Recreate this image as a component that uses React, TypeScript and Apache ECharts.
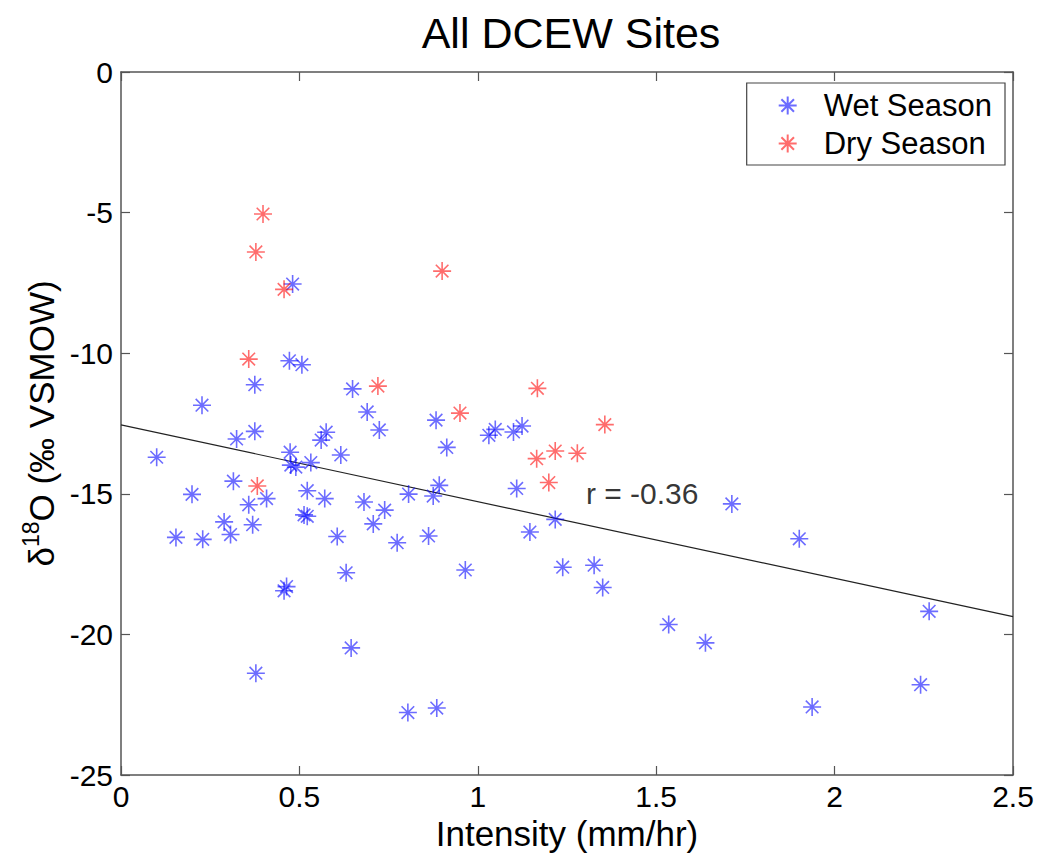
import React, { useEffect, useRef } from "react";
import * as echarts from "echarts";

const wetX = [0.481, 0.472, 0.507, 0.375, 0.227, 0.649, 0.375, 0.324, 0.1, 0.575, 0.561, 0.616, 0.474, 0.476, 0.49, 0.532, 0.315, 0.199, 0.408, 0.358, 0.522, 0.571, 0.513, 0.522, 0.289, 0.369, 0.307, 0.154, 0.229, 0.606, 0.631, 0.457, 0.464, 0.378, 0.645, 0.69, 0.724, 0.883, 1.031, 1.049, 1.1, 1.124, 0.913, 1.109, 0.892, 0.875, 0.806, 0.681, 0.739, 0.707, 0.774, 0.862, 1.217, 1.146, 0.965, 1.238, 1.326, 1.35, 0.804, 0.885, 1.712, 1.901, 2.265, 1.535, 1.638, 2.241, 1.937];
const wetY = [-7.54, -10.27, -10.41, -11.12, -11.85, -11.27, -12.78, -13.05, -13.7, -12.81, -13.09, -13.62, -13.52, -13.98, -14.05, -13.89, -14.55, -15.02, -15.17, -15.39, -14.89, -15.17, -15.75, -15.8, -16.0, -16.1, -16.45, -16.55, -16.62, -16.52, -17.81, -18.45, -18.3, -21.38, -20.48, -12.09, -12.73, -12.38, -12.92, -12.71, -12.8, -12.59, -13.35, -14.81, -14.7, -15.08, -15.01, -15.29, -15.58, -16.07, -16.74, -16.5, -15.91, -16.36, -17.71, -17.61, -17.54, -18.33, -22.78, -22.62, -15.36, -16.6, -19.18, -19.65, -20.3, -21.79, -22.58];

const dryX = [0.398, 0.378, 0.457, 0.358, 0.382, 0.72, 0.9, 0.95, 1.167, 1.356, 1.165, 1.217, 1.279, 1.199];
const dryY = [-5.05, -6.4, -7.73, -10.21, -14.72, -11.17, -7.08, -12.13, -11.25, -12.54, -13.75, -13.48, -13.56, -14.6];

const fitX = [0, 2.5];
const fitY = [-12.55, -19.37];

const rLabelPos = [1.303, -15.0];
const rLabelText = "r = -0.36";

const xTicks = { min: 0, max: 2.5, interval: 0.5 };
const yTicks = { min: -25, max: 0, interval: 5 };

const ASTERISK = "path://M0,10L20,10M10,0L10,20M3,3L17,17M3,17L17,3";
const FONT = "'Liberation Sans', Arial, Helvetica, sans-serif";

export default function App() {
  const ref = useRef<HTMLDivElement>(null);
  useEffect(() => {
    if (!ref.current) return;
    const chart = echarts.init(ref.current, null, { renderer: "svg" });
    const axisLine = { show: true, onZero: false, lineStyle: { color: "#555", width: 1.5 } };
    const axisTick = { show: true, inside: true, length: 9, lineStyle: { color: "#555", width: 1.2 } };
    const wetData = wetX.map((x, i) => [x, wetY[i]]);
    const dryData = dryX.map((x, i) => [x, dryY[i]]);
    const fitData = fitX.map((x, i) => [x, fitY[i]]);
    chart.setOption({
      animation: false,
      backgroundColor: "#fff",
      textStyle: { fontFamily: FONT },
      title: {
        text: "All DCEW Sites",
        left: 566,
        textAlign: "center",
        top: 6,
        textStyle: { fontSize: 43, fontWeight: "normal", color: "#000", fontFamily: FONT },
      },
      grid: { left: 121, right: 28, top: 72, bottom: 81, containLabel: false },
      legend: {
        orient: "vertical",
        right: 36,
        top: 83,
        padding: [7, 13, 6, 31],
        itemGap: 7,
        itemWidth: 18,
        itemHeight: 18,
        borderColor: "#444",
        borderWidth: 1.2,
        backgroundColor: "#fff",
        textStyle: { fontSize: 31, color: "#000", fontFamily: FONT, padding: [0, 0, 0, 22] },
        data: [
          { name: "Wet Season", icon: ASTERISK },
          { name: "Dry Season", icon: ASTERISK },
        ],
      },
      xAxis: [
        {
          type: "value",
          ...xTicks,
          position: "bottom",
          name: "Intensity (mm/hr)",
          nameLocation: "middle",
          nameGap: 37,
          nameTextStyle: { fontSize: 35, color: "#000", fontFamily: FONT },
          axisLine,
          axisTick,
          splitLine: { show: false },
          axisLabel: { fontSize: 30, color: "#000", margin: 6, fontFamily: FONT },
        },
        {
          type: "value",
          ...xTicks,
          position: "top",
          axisLine,
          axisTick,
          splitLine: { show: false },
          axisLabel: { show: false },
        },
      ],
      yAxis: [
        {
          type: "value",
          ...yTicks,
          position: "left",
          name: "{d|δ}{s|18}{d|O (‰ VSMOW)}",
          nameLocation: "middle",
          nameGap: 60,
          nameTextStyle: {
            color: "#000",
            fontFamily: FONT,
            rich: {
              d: { fontSize: 35, lineHeight: 40, color: "#000", fontFamily: FONT, verticalAlign: "bottom" },
              s: {
                fontSize: 23,
                lineHeight: 23,
                color: "#000",
                fontFamily: FONT,
                verticalAlign: "bottom",
                padding: [0, 0, 16, 0],
              },
            },
          },
          axisLine,
          axisTick,
          splitLine: { show: false },
          axisLabel: { fontSize: 30, color: "#000", margin: 8, fontFamily: FONT },
        },
        {
          type: "value",
          ...yTicks,
          position: "right",
          axisLine,
          axisTick,
          splitLine: { show: false },
          axisLabel: { show: false },
        },
      ],
      series: [
        {
          name: "Wet Season",
          type: "scatter",
          symbol: ASTERISK,
          symbolSize: 18,
          data: wetData,
          itemStyle: { color: "transparent", borderColor: "rgba(0,0,255,0.72)", borderWidth: 1.6 },
          z: 3,
        },
        {
          name: "Dry Season",
          type: "scatter",
          symbol: ASTERISK,
          symbolSize: 18,
          data: dryData,
          itemStyle: { color: "transparent", borderColor: "rgba(255,0,0,0.72)", borderWidth: 1.6 },
          z: 3,
        },
        {
          name: "fit",
          type: "line",
          data: fitData,
          symbol: "none",
          lineStyle: { color: "#222", width: 1.2 },
          z: 2,
        },
        {
          name: "rlabel",
          type: "scatter",
          data: [rLabelPos],
          symbolSize: 0,
          silent: true,
          label: {
            show: true,
            position: "right",
            distance: 0,
            formatter: rLabelText,
            fontSize: 30,
            color: "#000",
            fontFamily: FONT,
          },
        },
      ],
    });
    return () => chart.dispose();
  }, []);
  return (
    <div
      ref={ref}
      style={{ position: "fixed", left: 0, top: 0, width: 1041, height: 856, background: "#fff" }}
    />
  );
}
